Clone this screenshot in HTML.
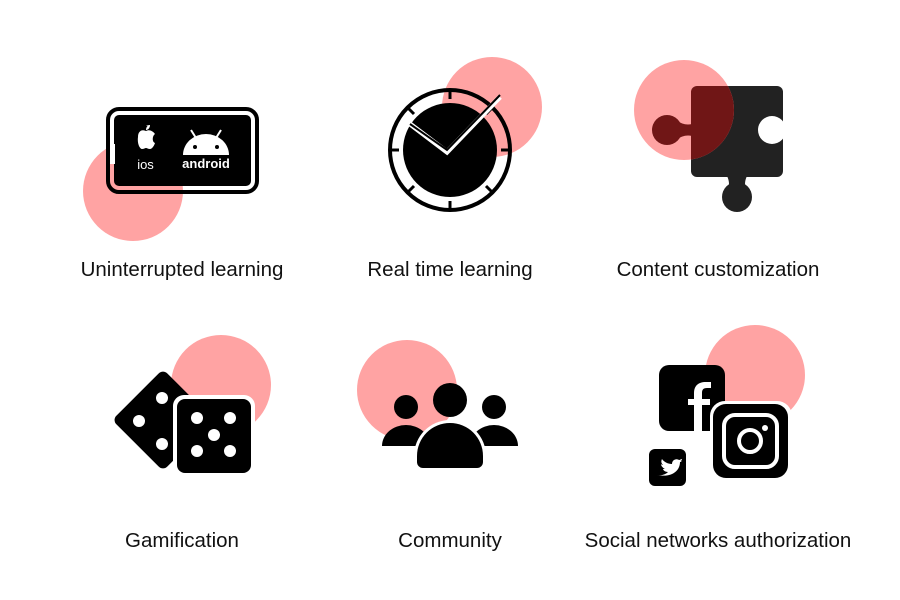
<!DOCTYPE html>
<html><head><meta charset="utf-8"><style>
html,body{margin:0;padding:0;background:#fff;}
body{width:900px;height:600px;position:relative;overflow:hidden;font-family:"Liberation Sans",sans-serif;}
.l{position:absolute;font-size:20.5px;color:#111;text-align:center;width:320px;}
</style></head><body>
<svg width="900" height="600" style="position:absolute;left:0;top:0">
<defs>
<g id="pz">
<rect x="691" y="86" width="92" height="91" rx="6"/>
<circle cx="667" cy="130" r="15"/>
<path d="M676 120q8 6 16 4v12q-8 -2 -16 4z"/>
<circle cx="737" cy="197" r="15"/>
<path d="M727 176q4 8 0 16h20q-4 -8 0 -16z"/>
</g>
<clipPath id="cc"><circle cx="684" cy="110" r="50"/></clipPath>
</defs>
<!-- tile1 -->
<circle cx="133" cy="191" r="50" fill="#ffa3a3"/>
<rect x="108" y="109" width="149" height="83" rx="11" fill="none" stroke="#000" stroke-width="4"/>
<rect x="114" y="115" width="137" height="71" rx="5" fill="#000"/>
<rect x="110" y="144" width="5" height="20" fill="#fff"/>
<path d="M146 126c2-1 3-1 4 0M138 137c0-6 4-8 8-6c3-2 7 0 9 3c-3 2-3 8 0 9c-1 3-3 6-5 6c-2 0-3-1-4-1s-2 1-4 1c-2 0-5-5-4-12z" fill="#fff"/>
<path d="M146 130c0-3 2-5 4-5c0 3-2 5-4 5z" fill="#fff"/>
<text x="145.5" y="169" fill="#fff" font-size="13" text-anchor="middle" font-family="Liberation Sans">ios</text>
<path d="M183 155a23 21 0 0 1 46 0z" fill="#fff"/>
<line x1="191" y1="130" x2="196" y2="138" stroke="#fff" stroke-width="2"/>
<line x1="221" y1="130" x2="216" y2="138" stroke="#fff" stroke-width="2"/>
<circle cx="195" cy="147" r="2" fill="#000"/><circle cx="217" cy="147" r="2" fill="#000"/>
<text x="206" y="168" fill="#fff" font-size="13" text-anchor="middle" font-family="Liberation Sans" font-weight="bold">android</text>
<!-- tile2 -->
<circle cx="492" cy="107" r="50" fill="#ffa3a3"/>
<circle cx="450" cy="150" r="60" fill="none" stroke="#000" stroke-width="4"/>
<circle cx="450" cy="150" r="47" fill="#000"/>
<g stroke="#000" stroke-width="3">
<line x1="450" y1="91" x2="450" y2="99"/><line x1="450" y1="201" x2="450" y2="209"/>
<line x1="391" y1="150" x2="399" y2="150"/><line x1="501" y1="150" x2="509" y2="150"/>
<line x1="408" y1="108" x2="414" y2="114"/><line x1="492" y1="108" x2="486" y2="114"/>
<line x1="408" y1="192" x2="414" y2="186"/><line x1="492" y1="192" x2="486" y2="186"/>
</g>
<polyline points="410,124 447,152 500,97" fill="none" stroke="#fff" stroke-width="5"/>
<polyline points="410,124 447,150 500,95" fill="none" stroke="#000" stroke-width="2"/>
<!-- tile3 -->
<use href="#pz" fill="#222"/>
<circle cx="772" cy="130" r="14" fill="#fff"/>
<circle cx="684" cy="110" r="50" fill="#ffa3a3"/>
<g clip-path="url(#cc)" fill="#701616"><use href="#pz"/></g>
<!-- tile4 -->
<circle cx="221" cy="385" r="50" fill="#ffa3a3"/>
<rect x="127" y="384" width="72" height="72" rx="6" transform="rotate(45 163 420)" fill="#000"/>
<rect x="173" y="395" width="82" height="82" rx="11" fill="#fff"/>
<rect x="177" y="399" width="74" height="74" rx="8" fill="#000"/>
<g fill="#fff">
<circle cx="162" cy="398" r="6"/><circle cx="139" cy="421" r="6"/><circle cx="162" cy="444" r="6"/>
<circle cx="197" cy="418" r="6"/><circle cx="230" cy="418" r="6"/><circle cx="214" cy="435" r="6"/><circle cx="197" cy="451" r="6"/><circle cx="230" cy="451" r="6"/>
</g>
<!-- tile5 -->
<circle cx="407" cy="390" r="50" fill="#ffa3a3"/>
<circle cx="406" cy="407" r="12"/><circle cx="494" cy="407" r="12"/>
<path d="M382 446a24 21 0 0 1 48 0z M470 446a24 21 0 0 1 48 0z"/>
<path d="M414 470v-14a36 36 0 0 1 72 0v14z" fill="#fff"/>
<circle cx="450" cy="400" r="17"/>
<path d="M417 462v-6a33 33 0 0 1 66 0v6a6 6 0 0 1-6 6h-54a6 6 0 0 1-6-6z"/>
<!-- tile6 -->
<circle cx="755" cy="375" r="50" fill="#ffa3a3"/>
<rect x="659" y="365" width="66" height="66" rx="10"/>
<path d="M694 431v-26h-6v-6h6v-6c0-7 4-11 12-11h5v6h-4c-4 0-5 2-5 5v6h8v6h-8v26z" fill="#fff"/>
<rect x="710" y="401" width="82" height="81" rx="15" fill="#fff"/>
<rect x="713" y="404" width="75" height="74" rx="13"/>
<rect x="724" y="415" width="53" height="52" rx="11" fill="none" stroke="#fff" stroke-width="4"/>
<circle cx="750" cy="441" r="11" fill="none" stroke="#fff" stroke-width="4"/>
<circle cx="765" cy="428" r="3" fill="#fff"/>
<rect x="649" y="449" width="37" height="37" rx="6"/>
<path d="M657 475c5 1 9-1 11-3c-3 0-5-2-5-3h2c-2-1-4-3-4-5c1 1 2 1 2 1c-2-2-2-4-1-6c2 3 6 5 10 5c0-4 4-6 7-4c1 0 2-1 3-1c0 1-1 2-2 2c1 0 2 0 2-1c0 1-1 2-2 2c0 8-7 16-23 13z" fill="#fff"/>
</svg>
<div class="l" style="left:22px;top:258px">Uninterrupted learning</div>
<div class="l" style="left:290px;top:258px">Real time learning</div>
<div class="l" style="left:558px;top:258px">Content customization</div>
<div class="l" style="left:22px;top:529px">Gamification</div>
<div class="l" style="left:290px;top:529px">Community</div>
<div class="l" style="left:558px;top:529px">Social networks authorization</div>
</body></html>
